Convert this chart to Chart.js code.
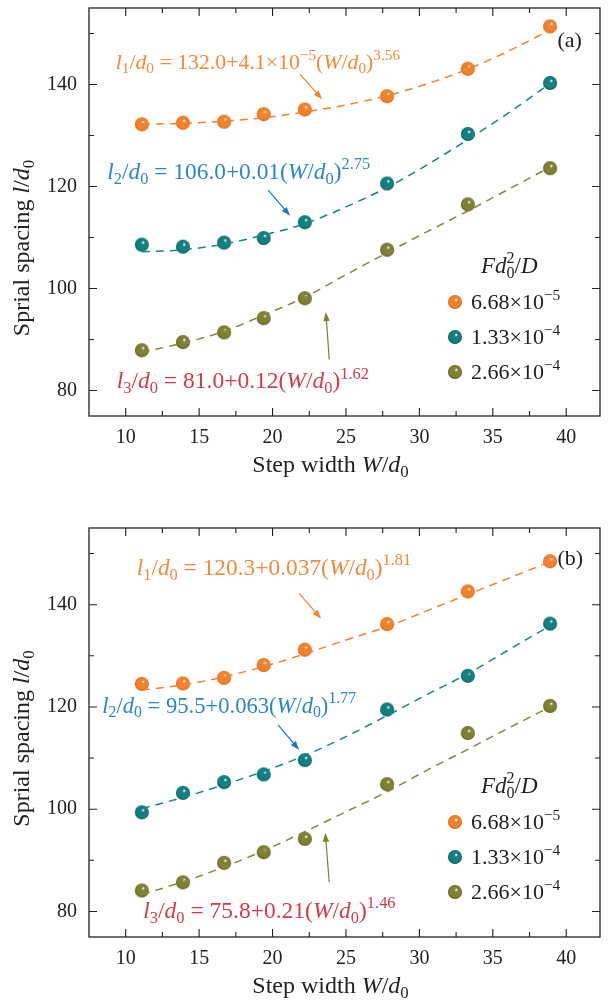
<!DOCTYPE html>
<html>
<head>
<meta charset="utf-8">
<script src="https://cdn.jsdelivr.net/npm/chart.js@4.4.1/dist/chart.umd.min.js"></script>
<style>
  html, body { margin: 0; padding: 0; background: #fff; }
  canvas { position: absolute; left: 0; }
  #ca { top: 0; }
  #cb { top: 520px; }
</style>
</head>
<body>
<canvas id="ca" width="609" height="520"></canvas>
<canvas id="cb" width="609" height="483"></canvas>
<script>
// measured step widths W/d0
const W = [11.1, 13.9, 16.7, 19.4, 22.2, 27.8, 33.3, 38.9];

// panel (a) measured spacings
const A_L1 = [132.2, 132.5, 132.7, 134.2, 135.1, 137.7, 143.1, 151.4];
const A_L2 = [108.6, 108.2, 109.0, 109.9, 113.0, 120.6, 130.3, 140.3];
const A_L3 = [87.9, 89.5, 91.4, 94.2, 98.1, 107.6, 116.5, 123.6];

// panel (b) measured spacings
const B_L1 = [124.5, 124.6, 125.7, 128.2, 131.2, 136.2, 142.6, 148.5];
const B_L2 = [99.4, 103.2, 105.3, 106.8, 109.6, 119.5, 126.1, 136.3];
const B_L3 = [84.1, 85.7, 89.5, 91.6, 94.2, 104.9, 114.9, 120.2];

// dashed fit curves
const FIT_X = [11.1, 13.9, 16.7, 19.4, 22.2, 25.0, 27.8, 30.5, 33.3, 36.1, 38.9];
const A_FIT1 = [132.2, 132.4, 132.8, 133.5, 134.6, 136.0, 137.8, 140.1, 143.0, 146.6, 150.7];
const A_FIT2 = [107.2, 107.6, 108.7, 110.5, 112.7, 116.0, 119.8, 124.2, 129.2, 134.5, 140.2];
const A_FIT3 = [87.5, 89.3, 91.6, 94.8, 98.3, 102.7, 107.0, 111.1, 115.2, 119.5, 123.8];
const B_FIT1 = [123.3, 124.3, 125.9, 127.9, 130.4, 133.1, 135.7, 138.8, 142.0, 145.2, 148.4];
const B_FIT2 = [100.1, 102.3, 104.8, 107.4, 110.5, 114.2, 118.3, 122.4, 126.5, 131.2, 135.9];
const B_FIT3 = [83.3, 85.8, 88.7, 91.9, 95.6, 99.5, 103.4, 107.6, 111.7, 115.9, 120.0];

const X_TICKS = [10, 15, 20, 25, 30, 35, 40];
const Y_TICKS = [80, 100, 120, 140];
const X_MINOR = [12.5, 17.5, 22.5, 27.5, 32.5, 37.5];
const Y_MINOR = [90, 110, 130, 150];

const LEGEND = ["6.68×10|−5", "1.33×10|−4", "2.66×10|−4"];

const SERIF = '"Liberation Serif", "DejaVu Serif", serif';
const FS = 20;   // tick labels
const TS = 22;   // legend
const AS = 24;   // axis titles
const INK = "#222";

const COLORS = [
  { base: "#f5822a", dark: "#c95a10", line: "#f5822a" },
  { base: "#108080", dark: "#05504f", line: "#1a8585" },
  { base: "#808033", dark: "#525218", line: "#86863a" },
];
const TXT_ORANGE = "#f58a3c";
const TXT_BLUE = "#2d86c8";
const TXT_RED = "#d63a48";
const ARROW_BLUE = "#1d78c4";

function ball(c, r) {
  const cv = document.createElement("canvas");
  const s = Math.ceil(r * 2 + 2);
  cv.width = cv.height = s;
  const g = cv.getContext("2d");
  const m = s / 2;
  const grad = g.createRadialGradient(m + r * 0.2, m - r * 0.35, r * 0.05, m, m, r);
  grad.addColorStop(0, "#ffffff");
  grad.addColorStop(0.22, c.base);
  grad.addColorStop(0.8, c.base);
  grad.addColorStop(1, c.dark);
  g.fillStyle = grad;
  g.beginPath();
  g.arc(m, m, r, 0, Math.PI * 2);
  g.fill();
  return cv;
}
const BALLS = COLORS.map((c) => ball(c, 7));

// runs: [text, style] where style: i=italic, b=sub, p=sup, o=stacked over previous
function eq(l, rest, tail) {
  return [
    ["l", "i"], [l, "b"], ["/", ""], ["d", "i"], ["0", "b"], [" = ", ""],
    ...rest,
    ["(", ""], ["W", "i"], ["/", ""], ["d", "i"], ["0", "b"], [")", ""], [tail, "p"],
  ];
}

function drawRich(ctx, runs, x, y, size, color, align) {
  const parts = runs.map(([t, st]) => {
    const small = st.includes("b") || st.includes("p");
    const fs = small ? size * 0.7 : size;
    const font = (st.includes("i") ? "italic " : "") + fs + "px " + SERIF;
    ctx.font = font;
    const dy = st.includes("b") ? size * 0.2 : st.includes("p") ? -size * 0.42 : 0;
    return { t, font, dy, over: st.includes("o"), w: ctx.measureText(t).width };
  });
  let total = 0;
  parts.forEach((p) => { if (!p.over) total += p.w; });
  let cx = align === "center" ? x - total / 2 : x;
  let prev = cx;
  ctx.fillStyle = color;
  ctx.textBaseline = "alphabetic";
  ctx.textAlign = "left";
  for (const p of parts) {
    ctx.font = p.font;
    if (p.over) {
      ctx.fillText(p.t, prev, y + p.dy);
      continue;
    }
    ctx.fillText(p.t, cx, y + p.dy);
    prev = cx;
    cx += p.w;
  }
}

function arrow(ctx, x0, y0, x1, y1, color) {
  const ang = Math.atan2(y1 - y0, x1 - x0);
  const hl = 9, hw = 3.2;
  ctx.strokeStyle = color;
  ctx.fillStyle = color;
  ctx.lineWidth = 1.2;
  ctx.setLineDash([]);
  ctx.beginPath();
  ctx.moveTo(x0, y0);
  ctx.lineTo(x1 - Math.cos(ang) * hl * 0.8, y1 - Math.sin(ang) * hl * 0.8);
  ctx.stroke();
  ctx.beginPath();
  ctx.moveTo(x1, y1);
  ctx.lineTo(x1 - Math.cos(ang) * hl - Math.sin(ang) * hw, y1 - Math.sin(ang) * hl + Math.cos(ang) * hw);
  ctx.lineTo(x1 - Math.cos(ang) * hl + Math.sin(ang) * hw, y1 - Math.sin(ang) * hl - Math.cos(ang) * hw);
  ctx.closePath();
  ctx.fill();
}

const decor = {
  id: "decor",
  afterDraw(chart, args, opts) {
    const { ctx, chartArea: a, scales: { x, y } } = chart;
    ctx.save();
    // frame and inward ticks on all sides
    ctx.strokeStyle = INK;
    ctx.lineWidth = 1.3;
    ctx.setLineDash([]);
    ctx.strokeRect(a.left, a.top, a.right - a.left, a.bottom - a.top);
    ctx.lineWidth = 1.1;
    const tick = (v, len, horiz) => {
      ctx.beginPath();
      if (horiz) {
        const px = x.getPixelForValue(v);
        ctx.moveTo(px, a.bottom); ctx.lineTo(px, a.bottom - len);
        ctx.moveTo(px, a.top); ctx.lineTo(px, a.top + len);
      } else {
        const py = y.getPixelForValue(v);
        ctx.moveTo(a.left, py); ctx.lineTo(a.left + len, py);
        ctx.moveTo(a.right, py); ctx.lineTo(a.right - len, py);
      }
      ctx.stroke();
    };
    X_TICKS.forEach((v) => tick(v, 8, true));
    X_MINOR.forEach((v) => tick(v, 5, true));
    Y_TICKS.forEach((v) => tick(v, 8, false));
    Y_MINOR.forEach((v) => tick(v, 5, false));

    // fit equations and arrows
    for (const n of opts.notes) {
      drawRich(ctx, n.runs, x.getPixelForValue(n.x), y.getPixelForValue(n.y), n.size, n.color);
    }
    for (const ar of opts.arrows) {
      arrow(ctx, x.getPixelForValue(ar.from[0]), y.getPixelForValue(ar.from[1]),
        x.getPixelForValue(ar.to[0]), y.getPixelForValue(ar.to[1]), ar.color);
    }
    drawRich(ctx, [[opts.tag, ""]], x.getPixelForValue(39.4), y.getPixelForValue(opts.tagY), TS, INK);

    // legend
    const lx = a.left + 392, ly = a.top + 265;
    drawRich(ctx, [["F", "i"], ["d", "i"], ["0", "b"], ["2", "po"], ["/", ""], ["D", "i"]], lx, ly, TS + 1, INK);
    LEGEND.forEach((s, i) => {
      const cy = a.top + 294 + i * 35;
      ctx.drawImage(BALLS[i], a.left + 366 - BALLS[i].width / 2, cy - BALLS[i].height / 2);
      const [m, e] = s.split("|");
      drawRich(ctx, [[m, ""], [e, "p"]], a.left + 382, cy + 7, TS, INK);
    });

    // axis titles
    drawRich(ctx, [["Step width ", ""], ["W", "i"], ["/", ""], ["d", "i"], ["0", "b"]],
      (a.left + a.right) / 2 - 14, a.bottom + 56, AS, INK, "center");
    ctx.translate(29, (a.top + a.bottom) / 2 + opts.yTitleShift);
    ctx.rotate(-Math.PI / 2);
    drawRich(ctx, [["Sprial spacing ", ""], ["l", "i"], ["/", ""], ["d", "i"], ["0", "b"]],
      0, 0, AS, INK, "center");
    ctx.restore();
  },
};

function makeChart(id, meas, fits, notes, arrows, tag, tagY, height, yTitleShift) {
  const datasets = [];
  COLORS.forEach((c, i) => {
    datasets.push({
      type: "line",
      data: FIT_X.map((v, k) => ({ x: v, y: fits[i][k] })),
      borderColor: c.line,
      borderWidth: 1.5,
      borderDash: [8, 6],
      pointRadius: 0,
      cubicInterpolationMode: "monotone",
      order: 0,
    });
    datasets.push({
      type: "scatter",
      data: W.map((v, k) => ({ x: v, y: meas[i][k] })),
      pointStyle: BALLS[i],
      pointRadius: 7,
      order: 1,
    });
  });
  const noPad = (s) => { s.paddingTop = 0; s.paddingBottom = 0; s.paddingLeft = 0; s.paddingRight = 0; };
  return new Chart(document.getElementById(id), {
    type: "scatter",
    data: { datasets },
    plugins: [decor],
    options: {
      responsive: false,
      animation: false,
      events: [],
      devicePixelRatio: 1,
      layout: { padding: { top: 8, right: 9, left: 0, bottom: 0 } },
      plugins: {
        legend: { display: false },
        tooltip: { enabled: false },
        decor: { notes, arrows, tag, tagY, yTitleShift },
      },
      scales: {
        x: {
          type: "linear",
          min: 7.5,
          max: 42.3,
          afterBuildTicks: (s) => { s.ticks = X_TICKS.map((v) => ({ value: v })); },
          afterFit: (s) => { s.height = height; noPad(s); },
          grid: { display: false, drawTicks: false },
          border: { display: false },
          ticks: { padding: 10, color: INK, font: { family: SERIF, size: FS } },
        },
        y: {
          type: "linear",
          min: 75,
          max: 155,
          afterBuildTicks: (s) => { s.ticks = Y_TICKS.map((v) => ({ value: v })); },
          afterFit: (s) => { s.width = 89; noPad(s); },
          grid: { display: false, drawTicks: false },
          border: { display: false },
          ticks: { padding: 12, color: INK, font: { family: SERIF, size: FS } },
        },
      },
    },
  });
}

makeChart("ca", [A_L1, A_L2, A_L3], [A_FIT1, A_FIT2, A_FIT3],
  [
    { x: 9.32, y: 143.1, size: 21.8, color: TXT_ORANGE, runs: eq("1", [["132.0+4.1×10", ""], ["−5", "p"]], "3.56") },
    { x: 8.75, y: 121.5, size: 23.4, color: TXT_BLUE, runs: eq("2", [["106.0+0.01", ""]], "2.75") },
    { x: 9.39, y: 80.4, size: 23.5, color: TXT_RED, runs: eq("3", [["81.0+0.12", ""]], "1.62") },
  ],
  [
    { from: [21.88, 142.0], to: [23.38, 137.1], color: COLORS[0].base },
    { from: [19.70, 119.3], to: [21.2, 114.25], color: ARROW_BLUE },
    { from: [23.86, 86.1], to: [23.63, 95.4], color: COLORS[2].base },
  ],
  "(a)", 147.3, 520 - 416, 36);

makeChart("cb", [B_L1, B_L2, B_L3], [B_FIT1, B_FIT2, B_FIT3],
  [
    { x: 10.75, y: 145.75, size: 23.4, color: TXT_ORANGE, runs: eq("1", [["120.3+0.037", ""]], "1.81") },
    { x: 8.4, y: 118.9, size: 22.6, color: TXT_BLUE, runs: eq("2", [["95.5+0.063", ""]], "1.77") },
    { x: 11.2, y: 78.7, size: 23.5, color: TXT_RED, runs: eq("3", [["75.8+0.21", ""]], "1.46") },
  ],
  [
    { from: [21.81, 142.2], to: [23.31, 137.25], color: COLORS[0].base },
    { from: [20.38, 116.5], to: [21.81, 111.6], color: ARROW_BLUE },
    { from: [23.86, 85.7], to: [23.59, 95.4], color: COLORS[2].base },
  ],
  "(b)", 147.85, 483 - 417, 6);
</script>
</body>
</html>
